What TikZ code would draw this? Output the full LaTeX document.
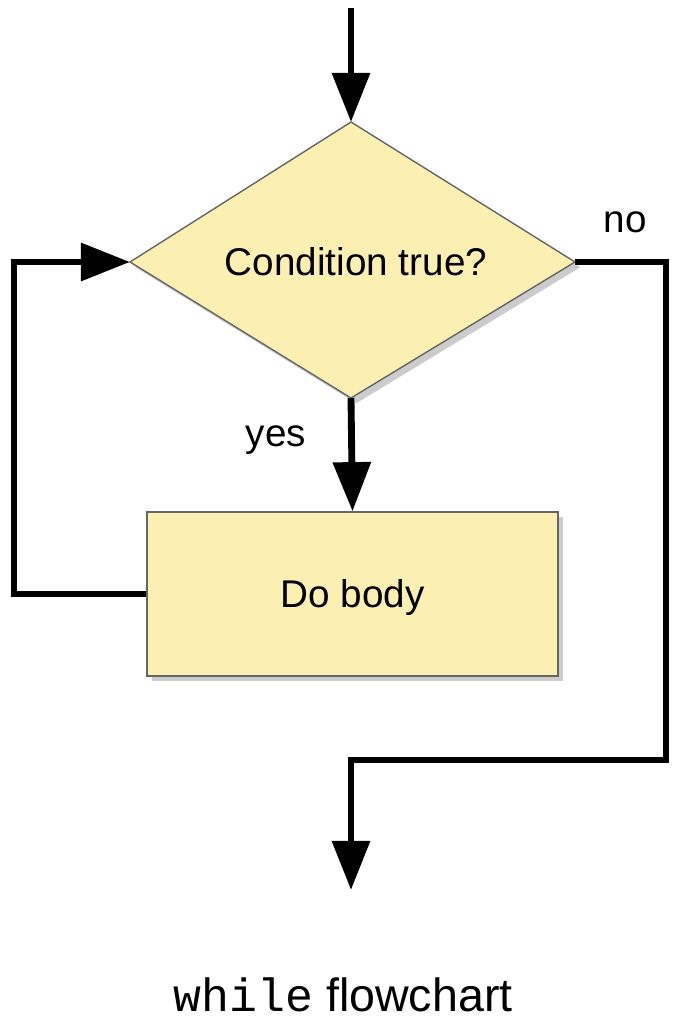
\documentclass[tikz,border=0pt]{standalone}
\usepackage{fontspec}
\setmainfont{Liberation Sans}
\setmonofont{Liberation Mono}
\usetikzlibrary{arrows.meta,shadows,shapes.geometric}
\definecolor{boxfill}{HTML}{FBEFB2}
\begin{document}
\begin{tikzpicture}[x=0.02cm,y=-0.02cm,
  line/.style={line width=3.9pt},
  arr/.style={line, -{Triangle[length=28pt,width=21pt]}},
  yshape/.style={fill=boxfill, draw=black!60, line width=0.8pt,
    drop shadow={shadow xshift=3pt,shadow yshift=-3pt,opacity=0.4}},
  lbl/.style={font=\fontsize{22}{24}\selectfont}]
\useasboundingbox (0,0) rectangle (684,1024);
\coordinate (start) at (351,8);
\coordinate (dt) at (351,122);
\coordinate (db) at (351,398);
\coordinate (dl) at (130,262);
\coordinate (dr) at (575,262);
\path[yshape] (dt) -- (dr) -- (db) -- (dl) -- cycle;
\node[lbl] (ct) at (356,262) {Condition true?};
\node[yshape, minimum width=8.22cm, minimum height=3.28cm, inner sep=0pt] (body) at (352.5,594) {};
\node[lbl] (bt) at (352.5,597) {Do body};
\node[lbl] (yes) at (276,440) {yes};
\node[lbl] (no) at (625,222) {no};
\coordinate (end) at (351,890);
\draw[arr] (start) -- (dt);
\draw[arr] (db) -- (body.north);
\draw[arr] (body.west) -- (14,594) -- (14,262) -- (dl);
\draw[arr] (dr) -- (666,262) -- (666,760) -- (351,760) -- (end);
\node[font=\fontsize{26.5}{28}\selectfont] (cap) at (343,995) {\texttt{while} flowchart};
\end{tikzpicture}
\end{document}
